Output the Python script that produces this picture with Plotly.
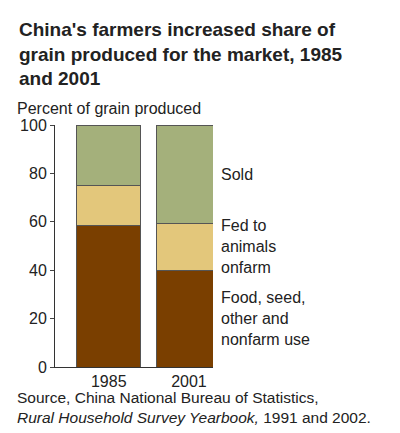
import plotly.graph_objects as go

years = ["1985", "2001"]
food = [58.5, 40.0]
fed = [16.5, 19.5]
sold = [25.0, 40.5]
series_names = ["Food, seed,<br>other and<br>nonfarm use", "Fed to<br>animals<br>onfarm", "Sold"]
colors = ["#7A3F00", "#E3C77B", "#A4B07B"]

fig = go.Figure()
xpos = [0, 1]
for vals, name, col in zip([food, fed, sold], series_names, colors):
    fig.add_trace(go.Bar(x=xpos, y=vals, name=name, width=0.8,
                         marker=dict(color=col, line=dict(color="#555", width=1))))

# series labels beside the 2001 bar
bases = [0, food[1], food[1] + fed[1]]
for vals, name, b in zip([food, fed, sold], series_names, bases):
    fig.add_annotation(x=1.0, y=b + vals[1] / 2, xref="paper", yref="y", text=name,
                       showarrow=False, xanchor="left", align="left", xshift=6,
                       font=dict(size=16, color="#222"))

font = "Liberation Sans, Arial, sans-serif"
fig.update_layout(
    barmode="stack", showlegend=False, width=400, height=433,
    margin=dict(l=40, r=195, t=117, b=74),
    plot_bgcolor="white", paper_bgcolor="white",
    font=dict(family=font, size=16, color="#222"),
    xaxis=dict(range=[-0.67, 1.3], tickvals=xpos, ticktext=years, showline=True,
               linecolor="#333", ticks="", showgrid=False, zeroline=False),
    yaxis=dict(range=[0, 100], tickvals=[0, 20, 40, 60, 80, 100], showline=True,
               linecolor="#333", ticks="outside", ticklen=4, showgrid=False, zeroline=False),
)
fig.add_annotation(x=0, y=1, xref="paper", yref="paper", xanchor="left", yanchor="bottom",
                   align="left", showarrow=False,
                   text="<b>China's farmers increased share of<br>grain produced for the market, 1985<br>and 2001</b>",
                   font=dict(size=19, color="#222"), xshift=-38, yshift=34)
fig.add_annotation(x=0, y=1, xref="paper", yref="paper", xanchor="left", yanchor="bottom",
                   showarrow=False, text="Percent of grain produced", xshift=-40, yshift=6,
                   font=dict(size=16))
fig.add_annotation(x=0, y=0, xref="paper", yref="paper", xanchor="left", yanchor="top",
                   align="left", showarrow=False, xshift=-40, yshift=-20,
                   text="Source, China National Bureau of Statistics,<br><i>Rural Household Survey Yearbook,</i> 1991 and 2002.",
                   font=dict(size=15.5))
fig.write_html("out.html")
